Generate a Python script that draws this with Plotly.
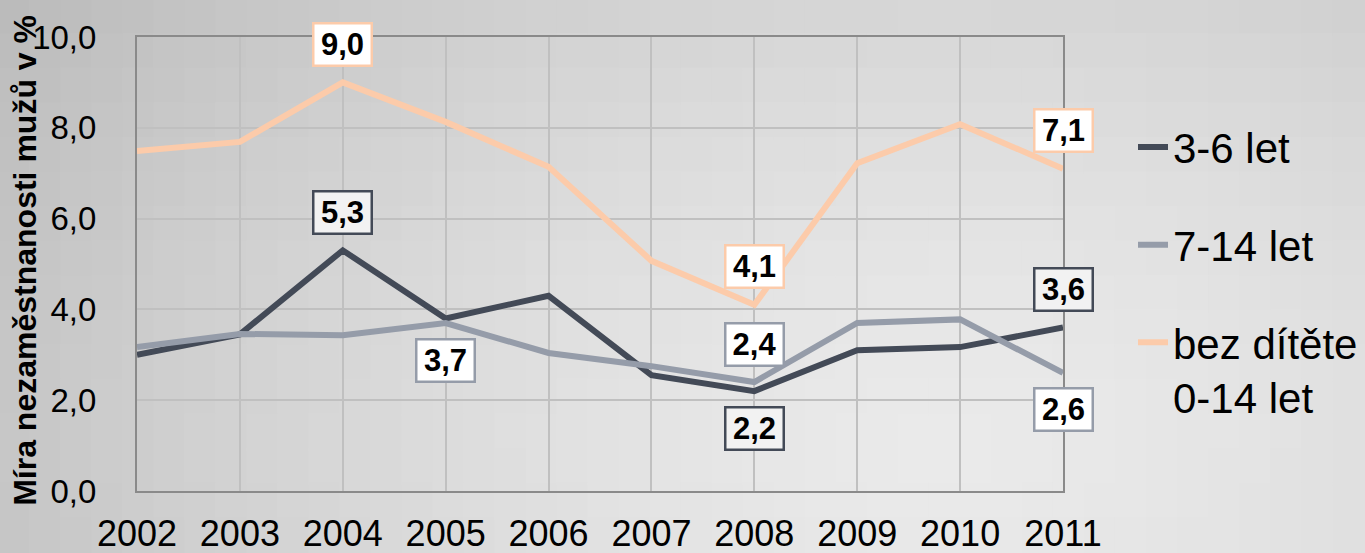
import math
import plotly.graph_objects as go

years = [2002, 2003, 2004, 2005, 2006, 2007, 2008, 2009, 2010, 2011]
s_3_6 = [3.0, 3.45, 5.3, 3.8, 4.3, 2.55, 2.2, 3.1, 3.17, 3.6]
s_7_14 = [3.17, 3.46, 3.43, 3.7, 3.04, 2.75, 2.4, 3.7, 3.78, 2.6]
s_bez = [7.49, 7.69, 9.0, 8.13, 7.14, 5.07, 4.1, 7.22, 8.08, 7.1]
names = ["3-6 let", "7-14 let", "bez dítěte<br>0-14 let"]
colors = ["#434a57", "#959ca9", "#fccbaa"]
y_ticks = [0, 2, 4, 6, 8, 10]
y_title = "Míra nezaměstnanosti mužů v %"

series = [s_3_6, s_7_14, s_bez]
# labelled points: (series index, year index, placement above/below)
labels = [(2, 2, "above"), (0, 2, "above"), (2, 9, "above"), (2, 6, "above"),
          (1, 3, "below"), (1, 6, "above"), (0, 6, "below"), (0, 9, "above"),
          (1, 9, "below")]

fig = go.Figure()
for i, (s, n, c) in enumerate(zip(series, names, colors)):
    fig.add_trace(go.Scatter(x=years, y=s, name=n, mode="lines",
                             line=dict(color=c, width=6),
                             legendgroup=str(i)))

fills = ["#f2f2f2", "#ffffff", "#ffffff"]
for si, yi, pos in labels:
    v = series[si][yi]
    fig.add_annotation(x=years[yi], y=v, text="<b>%s</b>" % f"{v:.1f}".replace(".", ","),
                       showarrow=False, yshift=38 if pos == "above" else -37,
                       xref="x", yref="y", width=52, height=36,
                       font=dict(family="Arial", size=31, color="#000000"),
                       bgcolor=fills[si], bordercolor=colors[si], borderwidth=2.5,
                       borderpad=2)

# y-axis title
fig.add_annotation(text="<b>%s</b>" % y_title, textangle=-90, showarrow=False,
                   xref="paper", yref="paper", x=0, y=0.507, xanchor="center",
                   yanchor="middle", xshift=-112,
                   font=dict(family="Arial", size=32, color="#000000"))

# background gradient (grid of rectangles in paper coordinates)
shapes = []
nx, ny = 44, 16
x_lo, x_hi = -137 / 926, (1365 - 137) / 926
y_lo, y_hi = -62 / 454, (553 - 62) / 454
for i in range(nx):
    for j in range(ny):
        fx = (i + 0.5) / nx
        fy = (j + 0.5) / ny  # 0 top -> 1 bottom
        dx = fx - 0.7
        dy = (fy - 0.8) * 0.6
        d = math.sqrt(dx * dx + dy * dy)
        g = int(round(234 - 62 * d ** 1.5))
        x0 = x_lo + (x_hi - x_lo) * i / nx
        x1 = x_lo + (x_hi - x_lo) * (i + 1) / nx
        y1 = y_hi - (y_hi - y_lo) * j / ny
        y0 = y_hi - (y_hi - y_lo) * (j + 1) / ny
        shapes.append(dict(type="rect", xref="paper", yref="paper",
                           x0=x0 - 0.002, x1=x1 + 0.002, y0=y0 - 0.003, y1=y1 + 0.003,
                           fillcolor=f"rgb({g},{g},{g})", line=dict(width=0),
                           layer="below"))

fig.update_layout(
    width=1365, height=553,
    margin=dict(l=137, r=302, t=37, b=62, autoexpand=False),
    paper_bgcolor="#d4d4d4", plot_bgcolor="rgba(0,0,0,0)",
    separators=", ",
    shapes=shapes,
    font=dict(family="Arial", color="#000000"),
    showlegend=True,
    legend=dict(x=(1133 - 137) / 926, y=0.832, xanchor="left", yanchor="top",
                font=dict(size=42, family="Arial", color="#000000"),
                tracegroupgap=40, bgcolor="rgba(0,0,0,0)", itemwidth=30,
                valign="top"),
    yaxis=dict(range=[0, 10], tickvals=y_ticks, tickformat=".1f",
               tickfont=dict(size=33), gridcolor="#c0c0c0", gridwidth=1.5,
               showline=True, linecolor="#8a8a8a", linewidth=2, mirror=True,
               zeroline=False, ticks="", ticklabelstandoff=32, automargin=False),
    xaxis=dict(range=[2002, 2011], tickvals=years, tickfont=dict(size=36),
               gridcolor="#c0c0c0", gridwidth=1.5, showline=True,
               linecolor="#8a8a8a", linewidth=2, mirror=True, zeroline=False,
               ticks="", ticklabelstandoff=10, automargin=False),
)

fig.write_html("out.html", post_script="document.body.style.margin='0';",
               config={"displayModeBar": False})
